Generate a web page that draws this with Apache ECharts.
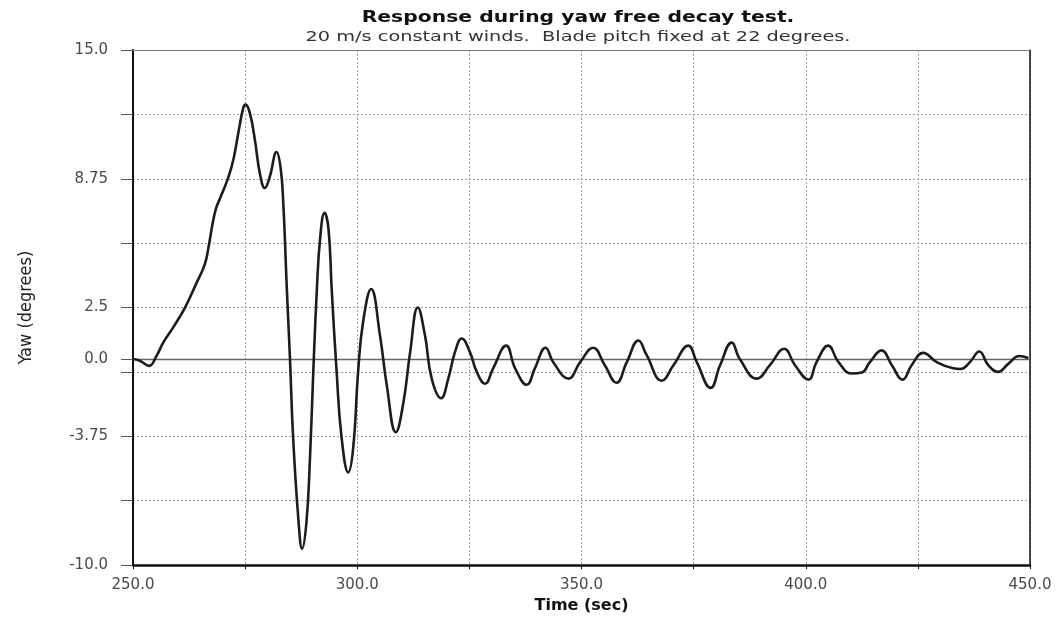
<!DOCTYPE html>
<html>
<head>
<meta charset="utf-8">
<script src="https://cdn.jsdelivr.net/npm/echarts@6/dist/echarts.min.js"></script>
<style>
  html, body { margin: 0; padding: 0; background: #ffffff; }
  #chart { width: 1060px; height: 619px; }
</style>
</head>
<body>
<div id="chart"></div>
<script>
// Yaw response samples: time (s) and yaw angle (degrees)
const timeSec = [
  250.0, 251.5, 253.6, 255.3, 256.8, 259.0, 261.6, 264.2, 266.0, 266.9,
  267.6, 268.5, 269.6, 271.2, 272.4, 273.5, 274.6, 275.1, 276.1, 277.2,
  278.3, 279.4, 280.5, 282.0, 282.9, 283.5, 284.3, 285.0, 285.7, 286.9,
  287.7, 288.7, 289.5, 290.2, 291.0, 291.7, 292.7, 293.6, 294.3, 295.4,
  296.5, 298.0, 299.1, 300.2, 301.3, 303.1, 305.1, 306.6, 308.6, 310.3,
  311.8, 313.5, 315.1, 316.6, 318.7, 320.3, 321.8, 323.3, 325.1, 326.6,
  328.5, 330.3, 333.2, 335.2, 337.8, 339.6, 342.0, 343.7, 347.1, 349.7,
  352.6, 355.2, 357.8, 360.1, 362.7, 364.5, 367.9, 370.5, 373.8, 375.7,
  378.8, 380.9, 383.5, 385.3, 389.1, 392.0, 395.2, 397.6, 400.6, 402.4,
  405.0, 407.3, 410.2, 412.5, 414.3, 416.9, 419.2, 421.6, 423.6, 426.2,
  429.2, 432.9, 434.5, 436.6, 438.7, 440.7, 442.9, 445.2, 447.6, 449.6
];
const yawDeg = [
  0.0, -0.08, -0.33, 0.18, 0.82, 1.55, 2.5, 3.71, 4.6, 5.5,
  6.4, 7.3, 7.9, 8.78, 9.7, 11.0, 12.2, 12.35, 11.9, 10.6,
  9.0, 8.3, 8.85, 10.05, 9.3, 7.6, 3.4, 0.0, -3.8, -7.85,
  -9.2, -7.85, -4.6, -0.6, 3.4, 5.8, 7.1, 6.3, 3.4, -0.6,
  -3.8, -5.5, -4.3, -0.6, 1.8, 3.4, 1.1, -1.3, -3.55, -2.1,
  0.35, 2.5, 1.15, -0.95, -1.9, -0.95, 0.35, 1.0, 0.35, -0.6,
  -1.2, -0.45, 0.65, -0.45, -1.25, -0.45, 0.55, -0.15, -0.95, -0.15,
  0.55, -0.3, -1.15, -0.15, 0.9, 0.2, -1.05, -0.3, 0.65, -0.15,
  -1.4, -0.3, 0.8, 0.0, -0.95, -0.3, 0.5, -0.3, -1.0, -0.15,
  0.65, -0.15, -0.7, -0.65, -0.15, 0.42, -0.3, -1.0, -0.3, 0.3,
  -0.15, -0.45, -0.48, -0.15, 0.37, -0.3, -0.62, -0.22, 0.15, 0.05
];

// Axis ticks and labels
const xMin = 250, xMax = 450, xStep = 25;
const xLabelValues = [250, 300, 350, 400, 450];
const xLabelText = ['250.0', '300.0', '350.0', '400.0', '450.0'];
const yMin = -10, yMax = 15;
const yTickValues = [-10, -6.875, -3.75, -0.625, 0, 2.5, 5.625, 8.75, 11.875, 15];
const yLabelValues = [-10, -3.75, 0, 2.5, 8.75, 15];
const yLabelText = ['-10.0', '-3.75', '0.0', '2.5', '8.75', '15.0'];

const titleText = 'Response during yaw free decay test.';
const subtitleText = '20 m/s constant winds.  Blade pitch fixed at 22 degrees.';
const xName = 'Time (sec)';
const yName = 'Yaw (degrees)';

const points = timeSec.map((t, i) => [t, yawDeg[i]]);

const labelFont = { fontFamily: '"DejaVu Sans", sans-serif', fontSize: 15, color: '#4a4a4a' };
const gridDash = { color: '#a0a0a0', width: 1, type: [2, 2] };

const chart = echarts.init(document.getElementById('chart'), null, { renderer: 'canvas' });

chart.setOption({
  animation: false,
  backgroundColor: '#ffffff',
  graphic: [
    {
      type: 'text', x: 578, y: 18, scaleX: 1.27,
      style: {
        text: titleText, fill: '#111111',
        font: 'bold 16px "DejaVu Sans", sans-serif',
        align: 'center', verticalAlign: 'middle',
        textAlign: 'center', textVerticalAlign: 'middle'
      }
    },
    {
      type: 'text', x: 578, y: 37, scaleX: 1.38,
      style: {
        text: subtitleText, fill: '#333333',
        font: '14px "DejaVu Sans", sans-serif',
        align: 'center', verticalAlign: 'middle',
        textAlign: 'center', textVerticalAlign: 'middle'
      }
    }
  ],
  grid: { left: 133, right: 30, top: 50, bottom: 49, show: false },
  xAxis: [
    {
      type: 'value', min: xMin, max: xMax, interval: xStep,
      name: xName, nameLocation: 'middle', nameGap: 29,
      nameTextStyle: { fontFamily: '"DejaVu Sans", sans-serif', fontSize: 16, fontWeight: 'bold', color: '#111' },
      axisLine: { show: true, onZero: false, lineStyle: { color: '#111', width: 2.5 } },
      axisTick: { show: true, length: 4, lineStyle: { color: '#111', width: 1 } },
      axisLabel: {
        ...labelFont, margin: 13,
        customValues: xLabelValues,
        formatter: v => xLabelText[xLabelValues.indexOf(v)] ?? ''
      },
      splitLine: { show: true, lineStyle: gridDash }
    },
    {
      type: 'value', min: xMin, max: xMax, position: 'top',
      axisLine: { show: true, onZero: false, lineStyle: { color: '#7a7a7a', width: 1 } },
      axisTick: { show: false }, axisLabel: { show: false }, splitLine: { show: false }
    }
  ],
  yAxis: [
    {
      type: 'value', min: yMin, max: yMax,
      name: yName, nameLocation: 'middle', nameGap: 98, nameRotate: 90,
      nameTextStyle: { fontFamily: '"DejaVu Sans Condensed", "Liberation Sans Narrow", "DejaVu Sans", sans-serif', fontSize: 18, color: '#222' },
      axisLine: { show: true, onZero: false, lineStyle: { color: '#111', width: 2 } },
      axisTick: { show: true, length: 12, customValues: yTickValues, lineStyle: { color: '#555', width: 1 } },
      axisLabel: {
        ...labelFont, margin: 25,
        customValues: yLabelValues,
        formatter: v => yLabelText[yLabelValues.indexOf(v)] ?? ''
      },
      splitLine: { show: true, lineStyle: gridDash }
    },
    {
      type: 'value', min: yMin, max: yMax, position: 'right',
      axisLine: { show: true, onZero: false, lineStyle: { color: '#111', width: 1.5 } },
      axisTick: { show: false }, axisLabel: { show: false }, splitLine: { show: false }
    }
  ],
  series: [
    {
      type: 'line',
      data: points,
      xAxisIndex: 0, yAxisIndex: 0,
      smooth: 0.45,
      symbol: 'none',
      lineStyle: { color: '#1c1c1c', width: 2.6 },
      z: 3,
      markLine: {
        silent: true, symbol: 'none', z: 2,
        label: { show: false },
        lineStyle: { color: '#666666', type: 'solid', width: 1.3 },
        data: [{ yAxis: 0 }]
      }
    }
  ]
});
</script>
</body>
</html>
